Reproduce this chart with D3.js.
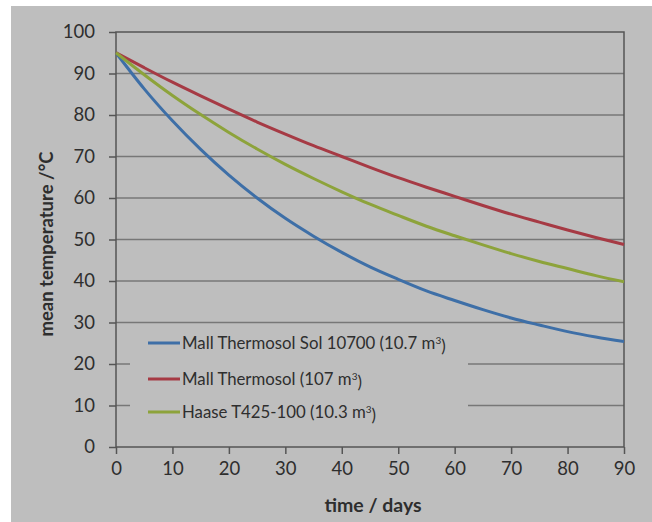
<!DOCTYPE html>
<html>
<head>
<meta charset="utf-8">
<script src="https://cdn.jsdelivr.net/npm/d3@7"></script>
<style>
	body { margin: 0; background: #fff; }
	svg text { font-family: Lato, "Open Sans", sans-serif; fill: #2e2e2e; }
</style>
</head>
<body>
<div id="chart"></div>
<script>
// days
var days = [0, 5, 10, 15, 20, 25, 30, 35, 40, 45, 50, 55, 60, 65, 70, 75, 80, 85, 90];
// mean temperature / °C
var solValues = [95, 86.3, 78.6, 71.7, 65.5, 60.0, 55.1, 50.8, 46.9, 43.4, 40.4, 37.6, 35.3, 33.1, 31.1, 29.4, 27.8, 26.5, 25.4];
var thermosolValues = [95, 91.4, 87.9, 84.6, 81.4, 78.3, 75.4, 72.6, 70.0, 67.4, 64.9, 62.6, 60.4, 58.2, 56.1, 54.2, 52.3, 50.5, 48.8];
var haaseValues = [95, 89.7, 84.7, 80.1, 75.8, 71.8, 68.1, 64.7, 61.5, 58.5, 55.8, 53.2, 50.9, 48.7, 46.6, 44.7, 43.0, 41.3, 39.8];

var seriesNames = ["Mall Thermosol Sol 10700 (10.7 m", "Mall Thermosol (107 m", "Haase T425-100 (10.3 m"];
var seriesColors = ["#3e6fa7", "#a63a44", "#8da33b"];
var xTicks = [0, 10, 20, 30, 40, 50, 60, 70, 80, 90];
var yTicks = [0, 10, 20, 30, 40, 50, 60, 70, 80, 90, 100];

var series = [solValues, thermosolValues, haaseValues].map(function(vals, i) {
	return {
		name: seriesNames[i],
		color: seriesColors[i],
		values: days.map(function(d, j) { return {x: d, y: vals[j]}; })
	};
});

var W = 652, H = 522;
var svg = d3.select("#chart").append("svg")
	.attr("width", W)
	.attr("height", H);

// grey backdrop
svg.append("rect")
	.attr("x", 11).attr("y", 6)
	.attr("width", W - 11).attr("height", H - 6)
	.attr("fill", "#bebebe");

var mLeft = 116, mTop = 32, width = 508, height = 415;
var chart = svg.append("g")
	.attr("transform", "translate(" + mLeft + "," + mTop + ")");

var xScale = d3.scaleLinear().domain([0, 90]).range([0, width]);
var yScale = d3.scaleLinear().domain([0, 100]).range([height, 0]);

// gridlines
chart.append("g")
	.selectAll("line")
	.data(yTicks.filter(function(t) { return t > 0 && t < 100; }))
	.enter()
	.append("line")
	.attr("x1", 0)
	.attr("x2", width)
	.attr("y1", function(d) { return yScale(d); })
	.attr("y2", function(d) { return yScale(d); })
	.attr("stroke", "#777")
	.attr("stroke-width", 1.5);

// plot frame
chart.append("rect")
	.attr("width", width)
	.attr("height", height)
	.attr("fill", "none")
	.attr("stroke", "#555")
	.attr("stroke-width", 1.5);

var xAxis = d3.axisBottom(xScale).tickValues(xTicks).tickSize(7).tickPadding(8);
var yAxis = d3.axisLeft(yScale).tickValues(yTicks).tickSize(7).tickPadding(14);

var gx = chart.append("g")
	.attr("transform", "translate(0," + height + ")")
	.call(xAxis);
var gy = chart.append("g").call(yAxis);

[gx, gy].forEach(function(g) {
	g.select(".domain").remove();
	g.selectAll(".tick line").attr("stroke", "#555").attr("stroke-width", 1.5);
	g.selectAll(".tick text").style("font-size", "18.5px").attr("fill", "#2e2e2e");
});

// legend box hides the gridlines under it
chart.append("rect")
	.attr("x", 14).attr("y", 298)
	.attr("width", 338).attr("height", 102)
	.attr("fill", "#bebebe");

var line = d3.line()
	.x(function(d) { return xScale(d.x); })
	.y(function(d) { return yScale(d.y); })
	.curve(d3.curveMonotoneX);

chart.selectAll(".series")
	.data(series)
	.enter()
	.append("path")
	.attr("class", "series")
	.attr("d", function(d) { return line(d.values); })
	.attr("fill", "none")
	.attr("stroke", function(d) { return d.color; })
	.attr("stroke-width", 3);

// legend
var legend = chart.selectAll(".legend")
	.data(series)
	.enter()
	.append("g")
	.attr("class", "legend")
	.attr("transform", function(d, i) { return "translate(32," + [311, 347, 380][i] + ")"; });

legend.append("line")
	.attr("x1", 0).attr("x2", 32)
	.attr("stroke", function(d) { return d.color; })
	.attr("stroke-width", 3);

var lt = legend.append("text")
	.attr("x", 34)
	.attr("dy", "0.35em")
	.style("font-size", "16.8px");
lt.append("tspan").text(function(d) { return d.name; });
lt.append("tspan").attr("dy", "-0.45em").style("font-size", "10px").text("3");
lt.append("tspan").attr("dy", "0.45em").text(")");

// axis titles
svg.append("text")
	.attr("x", mLeft + width / 2 + 3)
	.attr("y", 512)
	.style("text-anchor", "middle")
	.style("font-size", "19.5px")
	.style("font-weight", "bold")
	.text("time / days");

svg.append("text")
	.attr("transform", "translate(53," + 244 + ") rotate(-90)")
	.style("text-anchor", "middle")
	.style("font-size", "18.5px")
	.style("font-weight", "bold")
	.text("mean temperature /°C");
</script>
</body>
</html>
